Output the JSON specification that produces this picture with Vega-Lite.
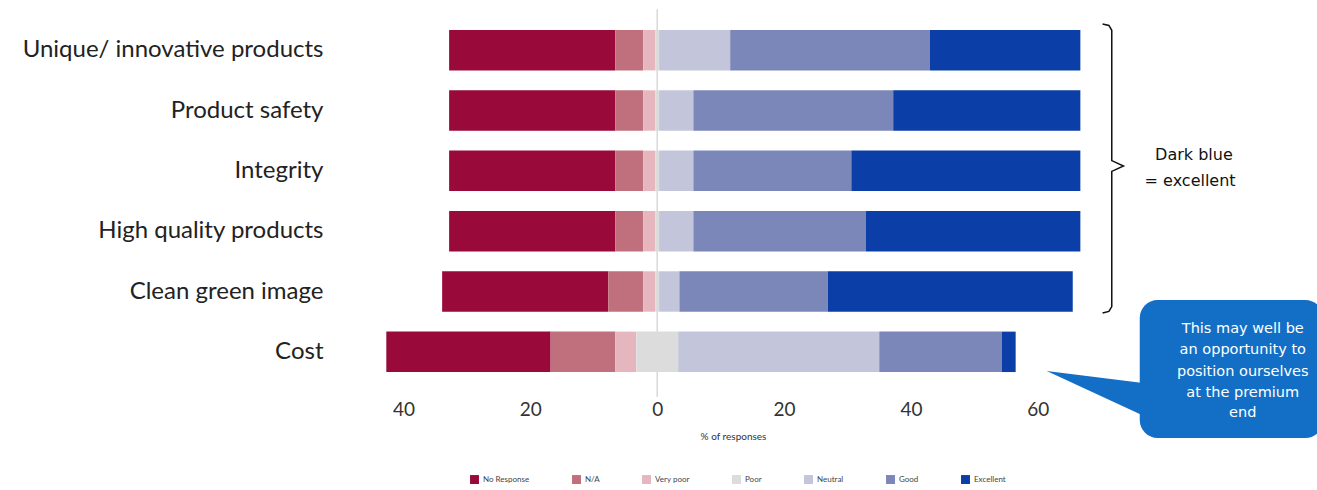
{
  "$schema": "https://vega.github.io/schema/vega-lite/v6.json",
  "width": 977,
  "height": 362,
  "autosize": {"type": "none"},
  "padding": {"left": 340, "top": 20, "right": 0, "bottom": 108},
  "background": "white",
  "config": {
    "view": {"stroke": null},
    "font": "Lato",
    "axisX": {"labelExpr": "abs(datum.value)", "domain": false, "ticks": false, "grid": false, "labelFontSize": 19, "labelColor": "#333", "labelPadding": 18, "titleFontSize": 10, "titleFontWeight": "normal", "titleColor": "#333", "titlePadding": 12, "titleX": 393}
  },
  "datasets": {
    "bars": [
      {"cat": "Unique/ innovative products", "resp": "No Response", "value": -26.2, "rank": 3},
      {"cat": "Unique/ innovative products", "resp": "N/A", "value": -4.4, "rank": 2},
      {"cat": "Unique/ innovative products", "resp": "Very poor", "value": -1.9, "rank": 1},
      {"cat": "Unique/ innovative products", "resp": "Poor", "value": -0.3, "rank": 0},
      {"cat": "Unique/ innovative products", "resp": "Poor", "value": 0.3, "rank": 0},
      {"cat": "Unique/ innovative products", "resp": "Neutral", "value": 11.2, "rank": 1},
      {"cat": "Unique/ innovative products", "resp": "Good", "value": 31.5, "rank": 2},
      {"cat": "Unique/ innovative products", "resp": "Excellent", "value": 23.7, "rank": 3},
      {"cat": "Product safety", "resp": "No Response", "value": -26.2, "rank": 3},
      {"cat": "Product safety", "resp": "N/A", "value": -4.4, "rank": 2},
      {"cat": "Product safety", "resp": "Very poor", "value": -1.9, "rank": 1},
      {"cat": "Product safety", "resp": "Poor", "value": -0.3, "rank": 0},
      {"cat": "Product safety", "resp": "Poor", "value": 0.3, "rank": 0},
      {"cat": "Product safety", "resp": "Neutral", "value": 5.4, "rank": 1},
      {"cat": "Product safety", "resp": "Good", "value": 31.5, "rank": 2},
      {"cat": "Product safety", "resp": "Excellent", "value": 29.5, "rank": 3},
      {"cat": "Integrity", "resp": "No Response", "value": -26.2, "rank": 3},
      {"cat": "Integrity", "resp": "N/A", "value": -4.4, "rank": 2},
      {"cat": "Integrity", "resp": "Very poor", "value": -1.9, "rank": 1},
      {"cat": "Integrity", "resp": "Poor", "value": -0.3, "rank": 0},
      {"cat": "Integrity", "resp": "Poor", "value": 0.3, "rank": 0},
      {"cat": "Integrity", "resp": "Neutral", "value": 5.4, "rank": 1},
      {"cat": "Integrity", "resp": "Good", "value": 24.9, "rank": 2},
      {"cat": "Integrity", "resp": "Excellent", "value": 36.1, "rank": 3},
      {"cat": "High quality products", "resp": "No Response", "value": -26.2, "rank": 3},
      {"cat": "High quality products", "resp": "N/A", "value": -4.4, "rank": 2},
      {"cat": "High quality products", "resp": "Very poor", "value": -1.9, "rank": 1},
      {"cat": "High quality products", "resp": "Poor", "value": -0.3, "rank": 0},
      {"cat": "High quality products", "resp": "Poor", "value": 0.3, "rank": 0},
      {"cat": "High quality products", "resp": "Neutral", "value": 5.4, "rank": 1},
      {"cat": "High quality products", "resp": "Good", "value": 27.2, "rank": 2},
      {"cat": "High quality products", "resp": "Excellent", "value": 33.8, "rank": 3},
      {"cat": "Clean green image", "resp": "No Response", "value": -26.2, "rank": 3},
      {"cat": "Clean green image", "resp": "N/A", "value": -5.5, "rank": 2},
      {"cat": "Clean green image", "resp": "Very poor", "value": -1.9, "rank": 1},
      {"cat": "Clean green image", "resp": "Poor", "value": -0.3, "rank": 0},
      {"cat": "Clean green image", "resp": "Poor", "value": 0.3, "rank": 0},
      {"cat": "Clean green image", "resp": "Neutral", "value": 3.2, "rank": 1},
      {"cat": "Clean green image", "resp": "Good", "value": 23.4, "rank": 2},
      {"cat": "Clean green image", "resp": "Excellent", "value": 38.6, "rank": 3},
      {"cat": "Cost", "resp": "No Response", "value": -25.9, "rank": 3},
      {"cat": "Cost", "resp": "N/A", "value": -10.2, "rank": 2},
      {"cat": "Cost", "resp": "Very poor", "value": -3.3, "rank": 1},
      {"cat": "Cost", "resp": "Poor", "value": -3.3, "rank": 0},
      {"cat": "Cost", "resp": "Poor", "value": 3.3, "rank": 0},
      {"cat": "Cost", "resp": "Neutral", "value": 31.7, "rank": 1},
      {"cat": "Cost", "resp": "Good", "value": 19.3, "rank": 2},
      {"cat": "Cost", "resp": "Excellent", "value": 2.2, "rank": 3}
    ],
    "zero": [{"x": 0, "y": -0.18, "y2": 6.25}],
    "brace": [
      {"x": 70.2, "y": 0.066, "i": 0},
      {"x": 71.2, "y": 0.09, "i": 1},
      {"x": 71.65, "y": 0.17, "i": 2},
      {"x": 71.65, "y": 2.33, "i": 3},
      {"x": 73.5, "y": 2.42, "i": 4},
      {"x": 71.65, "y": 2.51, "i": 5},
      {"x": 71.65, "y": 4.75, "i": 6},
      {"x": 71.2, "y": 4.83, "i": 7},
      {"x": 70.2, "y": 4.857, "i": 8}
    ],
    "notes": [
      {"x": 84.6, "y": 2.24, "text": "Dark blue"},
      {"x": 84.0, "y": 2.67, "text": "= excellent"}
    ],
    "box": [{"x": 76.06, "x2": 105, "y": 4.64, "y2": 6.93}],
    "pointer": [
      {"x": 61.4, "y": 5.818, "y2": 5.818},
      {"x": 77.5, "y": 6.03, "y2": 6.6}
    ],
    "callout": [
      {"x": 92.3, "y": 5.122, "text": "This may well be"},
      {"x": 92.3, "y": 5.47, "text": "an opportunity to"},
      {"x": 92.3, "y": 5.835, "text": "position ourselves"},
      {"x": 92.3, "y": 6.183, "text": "at the premium"},
      {"x": 92.3, "y": 6.514, "text": "end"}
    ]
  },
  "layer": [
    {
      "data": {"name": "zero"},
      "mark": {"type": "rule", "color": "#d9d9d9", "strokeWidth": 1.5},
      "encoding": {
        "x": {"field": "x", "type": "quantitative", "scale": {"domain": [-50, 104], "nice": false, "zero": false}, "title": "% of responses", "axis": {"values": [-40, -20, 0, 20, 40, 60]}},
        "y": {"field": "y", "type": "quantitative", "scale": {"domain": [0, 6], "reverse": true, "nice": false, "zero": false}, "axis": null},
        "y2": {"field": "y2"}
      }
    },
    {
      "data": {"name": "bars"},
      "mark": {"type": "bar"},
      "encoding": {
        "y": {
          "field": "cat", "type": "nominal",
          "sort": ["Unique/ innovative products", "Product safety", "Integrity", "High quality products", "Clean green image", "Cost"],
          "scale": {"paddingInner": 0.33, "paddingOuter": 0.165},
          "axis": {"title": null, "domain": false, "ticks": false, "labelFontSize": 24, "labelColor": "#222", "labelPadding": 17, "labelLimit": 400}
        },
        "x": {
          "field": "value", "type": "quantitative", "stack": "zero",
          "scale": {"domain": [-50, 104], "nice": false, "zero": false},
          "title": "% of responses", "axis": {"values": [-40, -20, 0, 20, 40, 60]}
        },
        "color": {
          "field": "resp", "type": "nominal",
          "scale": {
            "domain": ["No Response", "N/A", "Very poor", "Poor", "Neutral", "Good", "Excellent"],
            "range": ["#990a3a", "#c0707c", "#e6b6be", "#dcdcdc", "#c3c6da", "#7b86b9", "#0b3ea6"]
          },
          "legend": {"title": null, "orient": "none", "legendX": 130, "legendY": 455, "direction": "horizontal", "columns": 7, "labelFontSize": 8, "labelColor": "#444", "symbolType": "square", "symbolSize": 80, "symbolStrokeWidth": 0, "columnPadding": 42}
        },
        "order": {"field": "rank", "type": "quantitative", "sort": "ascending"}
      }
    },
    {
      "data": {"name": "brace"},
      "mark": {"type": "line", "color": "#111", "strokeWidth": 1.5},
      "encoding": {
        "x": {"field": "x", "type": "quantitative", "title": "% of responses", "axis": {"values": [-40, -20, 0, 20, 40, 60]}},
        "y": {"field": "y", "type": "quantitative", "scale": {"domain": [0, 6], "reverse": true, "nice": false, "zero": false}, "axis": null},
        "order": {"field": "i", "type": "quantitative"}
      }
    },
    {
      "data": {"name": "notes"},
      "mark": {"type": "text", "font": "DejaVu Sans", "fontSize": 16, "color": "#111", "align": "center", "baseline": "middle"},
      "encoding": {
        "x": {"field": "x", "type": "quantitative", "title": "% of responses", "axis": {"values": [-40, -20, 0, 20, 40, 60]}},
        "y": {"field": "y", "type": "quantitative", "scale": {"domain": [0, 6], "reverse": true, "nice": false, "zero": false}, "axis": null},
        "text": {"field": "text"}
      }
    },
    {
      "data": {"name": "pointer"},
      "mark": {"type": "area", "color": "#136fc6", "orient": "vertical", "opacity": 1},
      "encoding": {
        "x": {"field": "x", "type": "quantitative", "title": "% of responses", "axis": {"values": [-40, -20, 0, 20, 40, 60]}},
        "y": {"field": "y", "type": "quantitative", "scale": {"domain": [0, 6], "reverse": true, "nice": false, "zero": false}, "axis": null},
        "y2": {"field": "y2"}
      }
    },
    {
      "data": {"name": "box"},
      "mark": {"type": "rect", "color": "#136fc6", "cornerRadius": 18},
      "encoding": {
        "x": {"field": "x", "type": "quantitative", "title": "% of responses", "axis": {"values": [-40, -20, 0, 20, 40, 60]}},
        "x2": {"field": "x2"},
        "y": {"field": "y", "type": "quantitative", "scale": {"domain": [0, 6], "reverse": true, "nice": false, "zero": false}, "axis": null},
        "y2": {"field": "y2"}
      }
    },
    {
      "data": {"name": "callout"},
      "mark": {"type": "text", "font": "DejaVu Sans", "fontSize": 14.5, "color": "white", "align": "center", "baseline": "middle"},
      "encoding": {
        "x": {"field": "x", "type": "quantitative", "title": "% of responses", "axis": {"values": [-40, -20, 0, 20, 40, 60]}},
        "y": {"field": "y", "type": "quantitative", "scale": {"domain": [0, 6], "reverse": true, "nice": false, "zero": false}, "axis": null},
        "text": {"field": "text"}
      }
    }
  ],
  "resolve": {"scale": {"y": "independent"}, "axis": {"y": "independent"}}
}
